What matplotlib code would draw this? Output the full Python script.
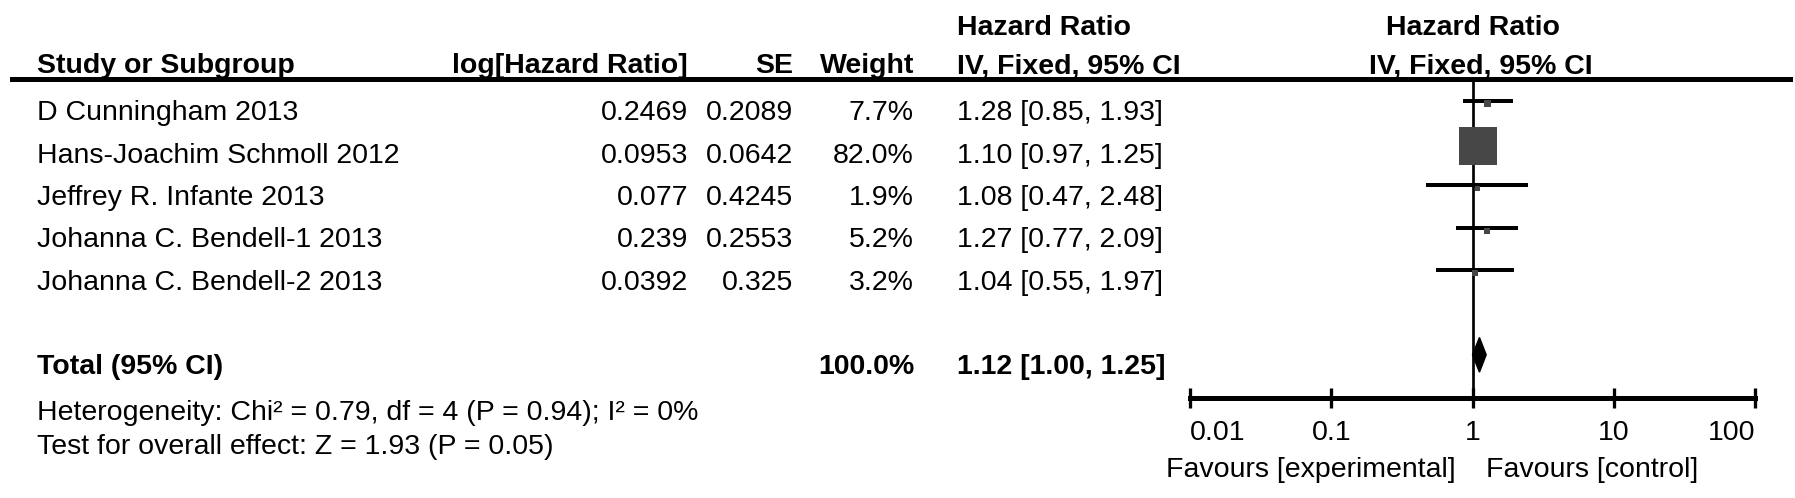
import matplotlib
matplotlib.use('Agg')
import matplotlib.pyplot as plt
from matplotlib.patches import Polygon
from matplotlib.ticker import NullLocator

# --- data ---
studies = ['D Cunningham 2013', 'Hans-Joachim Schmoll 2012', 'Jeffrey R. Infante 2013',
           'Johanna C. Bendell-1 2013', 'Johanna C. Bendell-2 2013']
log_hr = [0.2469, 0.0953, 0.077, 0.239, 0.0392]
se = [0.2089, 0.0642, 0.4245, 0.2553, 0.325]
weight = [7.7, 82.0, 1.9, 5.2, 3.2]
hr = [1.28, 1.10, 1.08, 1.27, 1.04]
ci_lo = [0.85, 0.97, 0.47, 0.77, 0.55]
ci_hi = [1.93, 1.25, 2.48, 2.09, 1.97]
total_weight = 100.0
total_hr = 1.12
total_lo = 1.00
total_hi = 1.25
heterogeneity = 'Heterogeneity: Chi² = 0.79, df = 4 (P = 0.94); I² = 0%'
overall = 'Test for overall effect: Z = 1.93 (P = 0.05)'
x_ticks = [0.01, 0.1, 1, 10, 100]
x_ticklabels = ['0.01', '0.1', '1', '10', '100']

# --- layout (pixels) ---
W, H, DPI = 1795, 498, 100
PX = 72 / DPI            # points per pixel
FS = 20.5
ROW_H = 42.35            # row pitch
TOP_PX, BOT_PX = 79, 398 # header rule / axis line
FIRST_PX = 100.7         # first study row
BASE = 0.46              # text baseline below the row line, in rows

def row_of(px):
    return (px - FIRST_PX) / ROW_H

plt.rcParams['font.family'] = ['Liberation Sans', 'DejaVu Sans']
plt.rcParams['font.size'] = FS

fig = plt.figure(figsize=(W / DPI, H / DPI), dpi=DPI)
ylim = (row_of(BOT_PX), row_of(TOP_PX))
rect_y = (H - BOT_PX) / H
rect_h = (BOT_PX - TOP_PX) / H

# table part
tab = fig.add_axes([0, rect_y, 1, rect_h])
tab.set_xlim(0, W)
tab.set_ylim(*ylim)
tab.axis('off')

# forest part
fx0, fx1 = 1190, 1755
ax = fig.add_axes([fx0 / W, rect_y, (fx1 - fx0) / W, rect_h])
ax.patch.set_visible(False)
ax.set_xscale('log')
ax.set_xlim(0.01, 100)
ax.set_ylim(*ylim)

# header rule
tab.axhline(ylim[1], xmin=12 / W, xmax=1790 / W, color='black', lw=5 * PX, clip_on=False)

c_name, c_log, c_se, c_w, c_ci = 37, 688, 793, 914, 957
h1 = row_of(35)
h2 = row_of(73)
bold = dict(fontweight='bold', va='baseline')
tab.text(c_name, h2, 'Study or Subgroup', **bold)
tab.text(c_log, h2, 'log[Hazard Ratio]', ha='right', **bold)
tab.text(c_se, h2, 'SE', ha='right', **bold)
tab.text(c_w, h2, 'Weight', ha='right', **bold)
tab.text(c_ci, h1, 'Hazard Ratio', **bold)
tab.text(c_ci, h2, 'IV, Fixed, 95% CI', **bold)
ax.text(1, h1, 'Hazard Ratio', ha='center', **bold)
ax.annotate('IV, Fixed, 95% CI', xy=(1, h2), xytext=(8 * PX, 0), textcoords='offset points',
            ha='center', annotation_clip=False, **bold)

for i, name in enumerate(studies):
    y = i + BASE
    tab.text(c_name, y, name, va='baseline')
    tab.text(c_log, y, str(log_hr[i]), ha='right', va='baseline')
    tab.text(c_se, y, str(se[i]), ha='right', va='baseline')
    tab.text(c_w, y, f'{weight[i]:.1f}%', ha='right', va='baseline')
    tab.text(c_ci, y, f'{hr[i]:.2f} [{ci_lo[i]:.2f}, {ci_hi[i]:.2f}]', va='baseline')

r_tot = len(studies) + 1
tab.text(c_name, r_tot + BASE, 'Total (95% CI)', **bold)
tab.text(c_w, r_tot + BASE, f'{total_weight:.1f}%', ha='right', **bold)
tab.text(c_ci, r_tot + BASE, f'{total_hr:.2f} [{total_lo:.2f}, {total_hi:.2f}]', **bold)
tab.text(c_name, row_of(420), heterogeneity, va='baseline')
tab.text(c_name, row_of(454), overall, va='baseline')

# forest marks
rows = list(range(len(studies)))
ax.axvline(1, color='black', lw=2.7 * PX, zorder=1)
ax.hlines(rows, ci_lo, ci_hi, color='black', lw=4 * PX, zorder=2)
sides = [(4 + 34 * w / max(weight)) * PX for w in weight]
ax.scatter(hr, [r + 0.07 for r in rows], s=[s ** 2 for s in sides], marker='s',
           color='#474747', linewidths=0, zorder=3)
dh = 0.41
ax.add_patch(Polygon([(total_lo, r_tot), (total_hr, r_tot - dh), (total_hi, r_tot),
                      (total_hr, r_tot + dh)], closed=True, color='black', zorder=3))

for s in ['top', 'left', 'right']:
    ax.spines[s].set_visible(False)
ax.spines['bottom'].set_linewidth(5 * PX)
ax.set_yticks([])
ax.set_xticks(x_ticks, x_ticklabels)
ax.xaxis.set_minor_locator(NullLocator())
ax.tick_params(axis='x', direction='inout', length=20 * PX, width=3.3 * PX,
               labelsize=FS, pad=8.5)
labels = ax.get_xticklabels()
labels[0].set_ha('left')
labels[-1].set_ha('right')

ax.annotate('Favours [experimental]', xy=(1, row_of(477)), xytext=(-17 * PX, 0),
            textcoords='offset points', ha='right', va='baseline', annotation_clip=False)
ax.annotate('Favours [control]', xy=(1, row_of(477)), xytext=(13 * PX, 0),
            textcoords='offset points', ha='left', va='baseline', annotation_clip=False)

fig.savefig('out.png', dpi=DPI)
